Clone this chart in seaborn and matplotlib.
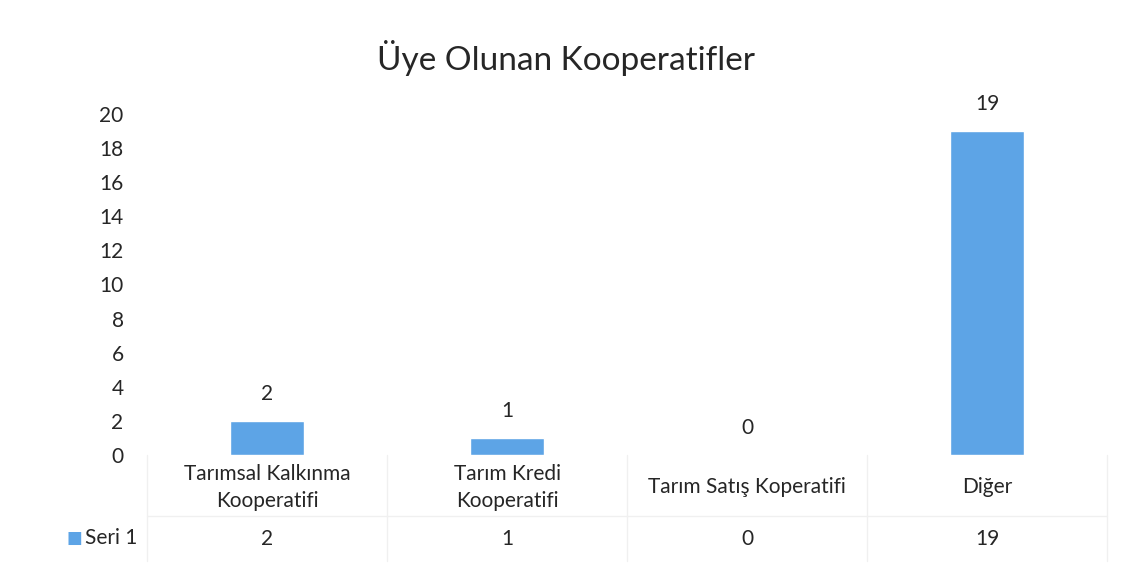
import matplotlib
matplotlib.use("Agg")
import matplotlib.pyplot as plt
import seaborn as sns
import pandas as pd

categories = ["Tarımsal Kalkınma\nKooperatifi", "Tarım Kredi\nKooperatifi", "Tarım Satış Koperatifi", "Diğer"]
values = [2, 1, 0, 19]
series_name = "Seri 1"
title = "Üye Olunan Kooperatifler"
yticks = [0, 2, 4, 6, 8, 10, 12, 14, 16, 18, 20]

sns.set_theme(style="white")
plt.rcParams['font.family'] = ['Lato', 'DejaVu Sans']

color = "#5DA4E6"
text_color = "#262626"
fs = 15

fig = plt.figure(figsize=(11.32, 5.69), dpi=100)
ax = fig.add_axes([0.130, 0.2004, 0.848, 0.5992])

df = pd.DataFrame({"cat": categories, "val": values})
sns.barplot(data=df, x="cat", y="val", color=color, width=0.31, ax=ax, saturation=1)

ax.set_ylim(0, 20)
ax.set_xlim(-0.5, 3.5)
ax.set_yticks(yticks)
ax.set_yticklabels([str(t) for t in yticks], fontsize=fs, color=text_color)
ax.tick_params(axis='y', length=0, pad=17)
ax.set_xticks([])
ax.set_xlabel("")
ax.set_ylabel("")
for s in ax.spines.values():
    s.set_visible(False)

for cont in ax.containers:
    ax.bar_label(cont, labels=[str(v) for v in values], padding=12, fontsize=fs,
                 color=text_color, clip_on=False)

fig.text(0.5, 0.898, title, ha="center", va="center", fontsize=24, color=text_color)

# data table
trans = ax.get_xaxis_transform()
line_c = "#F0F0F0"
for i, lab in enumerate(categories):
    ax.text(i, -0.095, lab, transform=trans, ha="center", va="center", fontsize=fs,
            color=text_color, linespacing=1.45, clip_on=False)
    ax.text(i, -0.245, str(values[i]), transform=trans, ha="center", va="center",
            fontsize=fs, color=text_color, clip_on=False)

for xb in [-0.5, 0.5, 1.5, 2.5, 3.5]:
    ax.plot([xb, xb], [0, -0.31], transform=trans, color=line_c, lw=1, clip_on=False)
ax.plot([-0.5, 3.5], [-0.18, -0.18], transform=trans, color=line_c, lw=1, clip_on=False)

fig.text(66 / 1132, 1 - 538 / 569, "■", ha="left", va="center", fontsize=12, color=color)
fig.text(85 / 1132, 1 - 538 / 569, series_name, ha="left", va="center", fontsize=fs, color=text_color)

fig.savefig("out.png", dpi=100)
